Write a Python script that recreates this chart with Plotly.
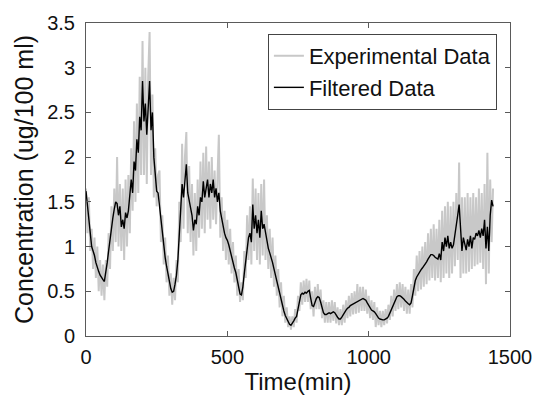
import plotly.graph_objects as go

experimental = [
    1.65, 1.15, 1.55, 0.95, 1.20, 0.75, 1.10, 0.65, 1.00, 0.50,
    0.85, 0.45, 0.80, 0.40, 0.85, 0.55, 1.15, 0.75, 1.45, 0.95,
    1.65, 1.05, 2.00, 1.00, 1.70, 0.95, 1.65, 0.85, 1.75, 1.00,
    1.80, 1.15, 2.10, 1.40, 2.40, 1.50, 2.60, 1.60, 2.90, 1.80,
    3.30, 1.80, 3.00, 1.70, 2.90, 3.40, 1.80, 2.70, 1.55, 2.10,
    1.45, 1.80, 1.85, 1.05, 1.35, 0.80, 1.10, 0.60, 0.90, 0.45,
    0.70, 0.35, 0.65, 0.40, 0.85, 0.60, 1.50, 1.05, 2.15, 1.20,
    2.00, 2.28, 1.15, 1.90, 1.05, 1.70, 0.90, 1.60, 0.95, 1.75,
    1.10, 1.95, 1.20, 2.05, 1.15, 2.12, 1.30, 1.95, 1.20, 2.00,
    1.30, 1.85, 1.25, 1.90, 2.25, 1.10, 1.55, 0.95, 1.40, 0.85,
    1.30, 0.80, 1.20, 0.70, 1.05, 0.60, 0.90, 0.45, 0.75, 0.38,
    0.60, 0.40, 0.95, 0.65, 1.35, 0.85, 1.45, 0.80, 1.76, 0.95,
    1.65, 0.85, 1.60, 0.80, 1.70, 0.90, 1.75, 0.85, 1.35, 0.75,
    1.20, 0.65, 1.10, 0.55, 0.90, 0.45, 0.75, 0.32, 0.60, 0.22,
    0.45, 0.15, 0.32, 0.10, 0.22, 0.07, 0.22, 0.10, 0.30, 0.15,
    0.45, 0.28, 0.60, 0.35, 0.62, 0.38, 0.64, 0.38, 0.62, 0.30,
    0.50, 0.22, 0.55, 0.30, 0.58, 0.30, 0.52, 0.20, 0.40, 0.15,
    0.38, 0.15, 0.38, 0.15, 0.40, 0.17, 0.38, 0.14, 0.32, 0.12,
    0.30, 0.12, 0.35, 0.15, 0.40, 0.20, 0.45, 0.22, 0.48, 0.24,
    0.50, 0.25, 0.58, 0.26, 0.55, 0.28, 0.55, 0.28, 0.52, 0.25,
    0.45, 0.20, 0.40, 0.18, 0.38, 0.10, 0.32, 0.12, 0.28, 0.10,
    0.28, 0.12, 0.30, 0.14, 0.35, 0.18, 0.45, 0.22, 0.52, 0.28,
    0.58, 0.30, 0.60, 0.32, 0.58, 0.28, 0.55, 0.25, 0.52, 0.25,
    0.58, 0.32, 0.75, 0.45, 0.90, 0.50, 0.95, 0.52, 1.00, 0.55,
    1.05, 0.58, 1.15, 0.62, 1.20, 0.65, 1.25, 0.62, 1.20, 0.65,
    1.30, 0.60, 1.40, 0.65, 1.45, 0.70, 1.50, 0.65, 1.45, 0.70,
    1.50, 0.78, 1.60, 0.85, 1.94, 0.65, 1.55, 0.70, 1.55, 0.70,
    1.60, 0.72, 1.55, 0.75, 1.60, 0.78, 1.55, 0.80, 1.65, 0.82,
    1.60, 0.75, 1.70, 0.58, 2.05, 0.70, 1.75, 1.05, 1.65,
]

# Filtered concentration, same sampling
filtered = [
    1.62, 1.45, 1.30, 1.10, 1.00, 0.95, 0.90, 0.82, 0.76, 0.72,
    0.68, 0.65, 0.63, 0.61, 0.70, 0.82, 0.95, 1.10, 1.22, 1.32,
    1.42, 1.50, 1.48, 1.35, 1.45, 1.22, 1.30, 1.20, 1.38, 1.32,
    1.40, 1.55, 1.75, 1.60, 1.95, 1.85, 2.20, 2.05, 2.45, 2.30,
    2.85, 2.40, 2.60, 2.25, 2.50, 2.85, 2.30, 2.50, 2.00, 1.75,
    1.62, 1.60, 1.45, 1.30, 1.15, 1.00, 0.88, 0.78, 0.68, 0.60,
    0.53, 0.49, 0.50, 0.58, 0.68, 0.85, 1.10, 1.40, 1.70, 1.55,
    1.80, 1.92, 1.60, 1.50, 1.40, 1.35, 1.18, 1.30, 1.25, 1.45,
    1.35, 1.55, 1.50, 1.73, 1.55, 1.65, 1.75, 1.55, 1.70, 1.60,
    1.75, 1.55, 1.65, 1.50, 1.60, 1.40, 1.30, 1.22, 1.15, 1.10,
    1.07, 1.02, 0.95, 0.88, 0.82, 0.76, 0.71, 0.62, 0.53, 0.47,
    0.46, 0.55, 0.70, 0.85, 1.00, 1.10, 1.15, 1.05, 1.47, 1.20,
    1.35, 1.15, 1.30, 1.10, 1.40, 1.20, 1.25, 1.15, 1.05, 0.98,
    0.93, 0.88, 0.82, 0.75, 0.68, 0.62, 0.54, 0.46, 0.39, 0.32,
    0.28, 0.23, 0.19, 0.15, 0.13, 0.12, 0.14, 0.17, 0.20, 0.22,
    0.30, 0.40, 0.46, 0.48, 0.47, 0.49, 0.48, 0.50, 0.51, 0.42,
    0.34, 0.33, 0.38, 0.42, 0.44, 0.43, 0.38, 0.31, 0.26, 0.24,
    0.24, 0.25, 0.26, 0.25, 0.26, 0.27, 0.26, 0.23, 0.21, 0.19,
    0.19, 0.21, 0.24, 0.27, 0.29, 0.31, 0.32, 0.34, 0.35, 0.36,
    0.37, 0.38, 0.39, 0.40, 0.41, 0.42, 0.42, 0.41, 0.40, 0.37,
    0.34, 0.31, 0.29, 0.28, 0.27, 0.25, 0.22, 0.20, 0.19, 0.18,
    0.18, 0.18, 0.19, 0.20, 0.22, 0.26, 0.30, 0.34, 0.38, 0.41,
    0.44, 0.45, 0.45, 0.44, 0.43, 0.41, 0.39, 0.37, 0.36, 0.35,
    0.37, 0.45, 0.55, 0.62, 0.66, 0.69, 0.71, 0.74, 0.76, 0.78,
    0.80, 0.83, 0.86, 0.89, 0.91, 0.91, 0.90, 0.88, 0.87, 0.86,
    0.92, 0.85, 1.05, 0.95, 1.10, 1.00, 1.12, 0.98, 1.05, 0.98,
    1.02, 1.15, 1.25, 1.35, 1.47, 1.20, 0.95, 1.10, 1.02, 0.96,
    1.08, 1.00, 1.12, 0.98, 1.10, 1.08, 1.15, 1.12, 1.18, 1.10,
    1.20, 1.12, 1.30, 0.98, 1.22, 0.95, 1.35, 1.52, 1.45,
]

sample_step_min = 5
time_min = [sample_step_min * i for i in range(len(experimental))]

x_ticks = [0, 500, 1000, 1500]
y_ticks = [0, 0.5, 1, 1.5, 2, 2.5, 3, 3.5]

FONT = "Liberation Sans, Arial, sans-serif"
AXIS_COLOR = "#5a5a5a"
TEXT_COLOR = "#111111"

fig = go.Figure()
fig.add_trace(go.Scatter(
    x=time_min, y=experimental, mode="lines", name="Experimental Data",
    line=dict(color="#c8c8c8", width=2),
))
fig.add_trace(go.Scatter(
    x=time_min, y=filtered, mode="lines", name="Filtered Data",
    line=dict(color="black", width=1.4),
))

axis_common = dict(
    showline=True, linecolor=AXIS_COLOR, linewidth=1, mirror="ticks",
    ticks="inside", ticklen=5, tickcolor=AXIS_COLOR, tickwidth=1,
    showgrid=False, zeroline=False,
    tickfont=dict(family=FONT, size=20, color=TEXT_COLOR),
)

fig.update_layout(
    width=544, height=404,
    margin=dict(l=86, r=27, t=19, b=68),
    paper_bgcolor="white", plot_bgcolor="white",
    font=dict(family=FONT, color=TEXT_COLOR),
    xaxis=dict(
        range=[0, 1500], tickvals=x_ticks,
        title=dict(text="Time(min)", font=dict(family=FONT, size=24, color=TEXT_COLOR), standoff=2),
        ticklabelstandoff=3,
        **axis_common,
    ),
    yaxis=dict(
        range=[0, 3.5], tickvals=y_ticks,
        ticktext=[f"{v:g}" for v in y_ticks],
        title=dict(text="Concentration (ug/100 ml)", font=dict(family=FONT, size=25, color=TEXT_COLOR), standoff=6),
        ticklabelstandoff=6,
        **axis_common,
    ),
    legend=dict(
        x=0.429, y=0.965, xanchor="left", yanchor="top",
        bgcolor="white", bordercolor="#444444", borderwidth=1,
        font=dict(family=FONT, size=22, color=TEXT_COLOR),
        tracegroupgap=0, itemwidth=30,
    ),
    showlegend=True,
)

fig.write_html("out.html")
